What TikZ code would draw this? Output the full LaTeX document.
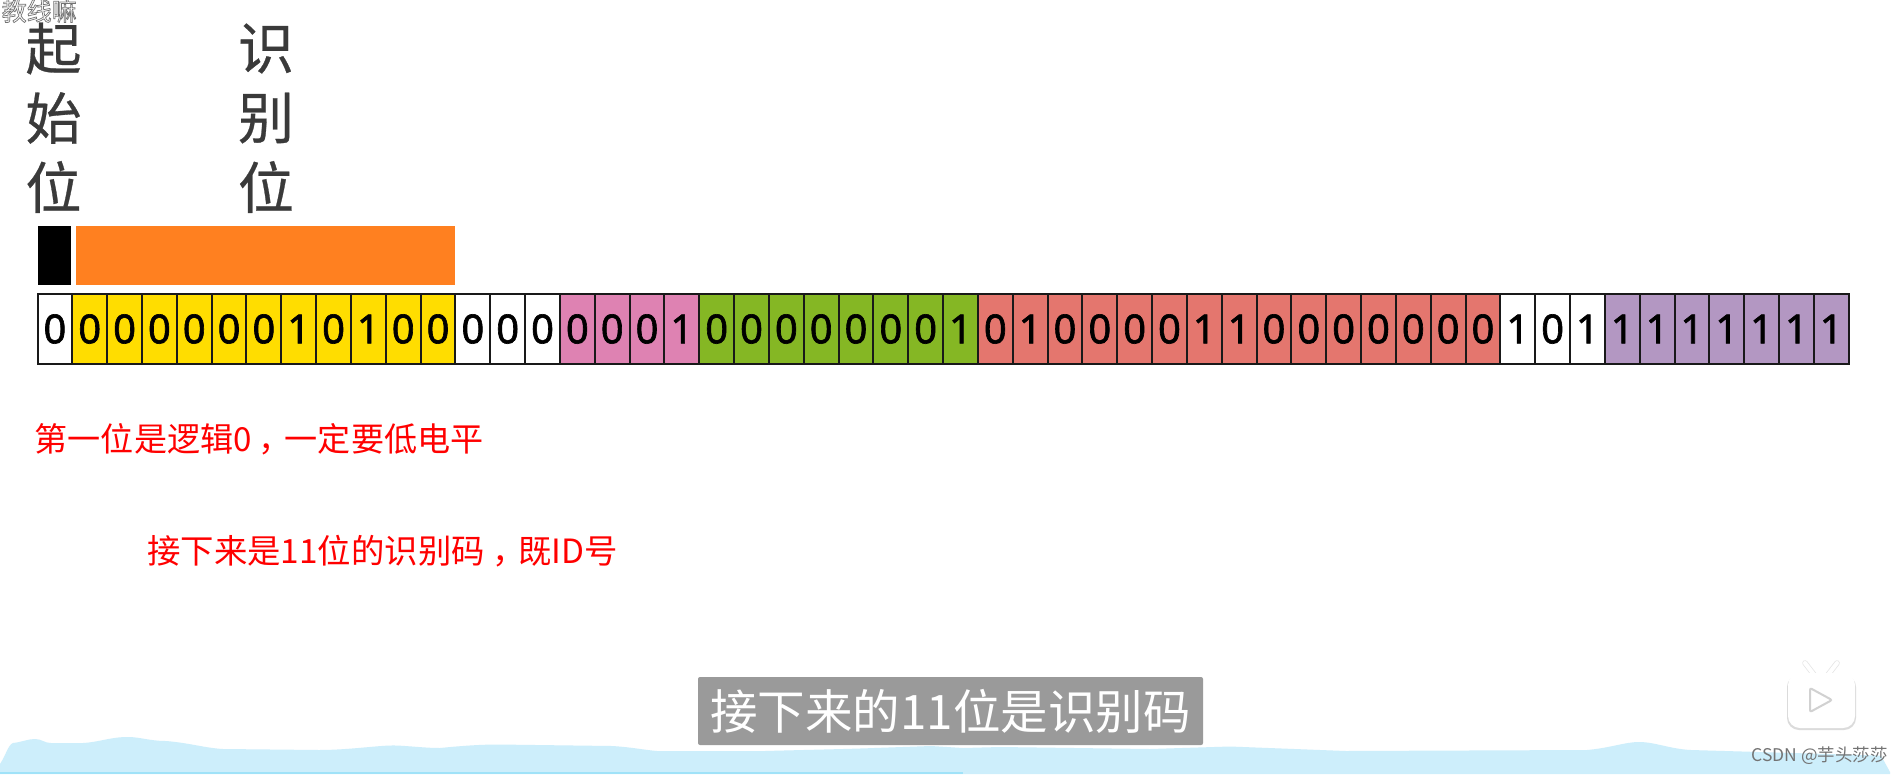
\documentclass[tikz,border=0pt]{standalone}
\usepackage{fontspec}
\setmainfont{Noto Sans CJK SC}
\newfontfamily\numfont[FakeBold=1.6]{Noto Sans}
\newfontfamily\bigfont[FakeBold=0.5]{Noto Sans CJK SC}
\newcommand{\midcomma}{\hspace{0.22em}，\hspace{-0.22em}}
\definecolor{cyel}{HTML}{FFDD00}
\definecolor{cpink}{HTML}{DE82B2}
\definecolor{cgrn}{HTML}{85B724}
\definecolor{cred}{HTML}{E4766E}
\definecolor{cpur}{HTML}{B397C2}
\definecolor{corg}{HTML}{FF8020}
\definecolor{cwave}{HTML}{CDEEFB}
\definecolor{cwaveb}{HTML}{A0E2F8}
\definecolor{cdark}{HTML}{3A3A3A}
\definecolor{csub}{HTML}{9A9A9A}
\tikzset{
 bitcell/.style={draw=black!90,line width=2pt,minimum width=34.83pt,minimum height=70pt,inner sep=0pt,outer sep=0pt,font=\fontsize{40}{40}\selectfont\numfont,text=black},
 bigchar/.style={font=\fontsize{56}{56}\selectfont\bigfont,text=cdark,inner sep=0pt},
 note/.style={font=\fontsize{33.1}{33.1}\selectfont,text=red,inner sep=0pt,anchor=west},
 wmark/.style={font=\fontsize{25}{25}\selectfont,inner sep=0pt,anchor=west},
}
\begin{document}
\begin{tikzpicture}[x=1pt,y=-1pt]
\useasboundingbox (0,0) rectangle (1903,774);
\fill[white] (0,0) rectangle (1903,774);
% waves
\fill[cwave] (0,774) -- (0,764) .. controls (6,755) and (8,745) .. (13,743) .. controls (22,742) and (28,739) .. (35,739) .. controls (42,739) and (44,743) .. (51,743) -- (83,743) .. controls (100,742) and (110,737) .. (128,737) .. controls (140,737) and (150,741) .. (166,741) .. controls (190,743) and (205,748) .. (223,749) -- (319,750) .. controls (350,750) and (380,745) .. (396,745.5) .. controls (410,746) and (425,748) .. (440,748) .. controls (460,746) and (480,744.5) .. (498,744.5) -- (612,746) .. controls (630,747) and (645,750) .. (657,751) -- (765,751) .. controls (800,750) and (850,749) .. (874,748) -- (931,746) -- (963,748) -- (1000,747) -- (1150,749) -- (1230,746.5) -- (1346,751) -- (1587,750) .. controls (1610,748) and (1625,742) .. (1639,742) .. controls (1655,742) and (1670,749) .. (1691,750) -- (1881,755.6) -- (1890,772) -- (1890,774) -- cycle;
\fill[cwaveb] (0,772) rectangle (963,774);
% labels
\node[bigchar] (q1) at (53.5,48.5) {起};
\node[bigchar] (q2) at (53.5,118) {始};
\node[bigchar] (q3) at (53.5,187) {位};
\node[bigchar] (s1) at (266,48.5) {识};
\node[bigchar] (s2) at (266,118) {别};
\node[bigchar] (s3) at (266,187) {位};
% bars
\fill[black] (37.5,226) rectangle (70.5,285);
\fill[corg] (76,226) rectangle (455,285);
% bits
\foreach \b/\c [count=\i from 0] in {0/white,
 0/cyel,0/cyel,0/cyel,0/cyel,0/cyel,0/cyel,1/cyel,0/cyel,1/cyel,0/cyel,0/cyel,
 0/white,0/white,0/white,
 0/cpink,0/cpink,0/cpink,1/cpink,
 0/cgrn,0/cgrn,0/cgrn,0/cgrn,0/cgrn,0/cgrn,0/cgrn,1/cgrn,
 0/cred,1/cred,0/cred,0/cred,0/cred,0/cred,1/cred,1/cred,0/cred,0/cred,0/cred,0/cred,0/cred,0/cred,0/cred,
 1/white,0/white,1/white,
 1/cpur,1/cpur,1/cpur,1/cpur,1/cpur,1/cpur,1/cpur}
 \node[bitcell,fill=\c] (bit\i) at ({37.5+34.83*(\i+0.5)},329) {\b};
% notes
\node[note] (n1) at (34.5,439) {第一位是逻辑0\midcomma 一定要低电平};
\node[note,font=\fontsize{33.4}{33.4}\selectfont] (n2) at (147,551) {接下来是11位的识别码\midcomma 既ID号};
% subtitle
\node[fill=csub,rounded corners=2pt,text=white,font=\fontsize{47.5}{47.5}\selectfont,minimum width=505pt,minimum height=68pt,inner sep=0pt] (sub) at (950.5,711) {接下来的11位是识别码};
% watermark: white text with a grey outline
\node[wmark,text=white] (wm) at (1.5,11) {\special{pdf:code q 0.45 G 0.7 w 2 Tr}教线嘛\special{pdf:code Q}};
\node[font=\fontsize{17.5}{17.5}\selectfont,text=black!55,inner sep=0pt,anchor=east] (csdn) at (1888,756) {CSDN @芋头莎莎};
% logo
\draw[black!10,line width=5.5pt,line cap=round] (1805,663) -- (1815,676) (1837,663) -- (1827,676);
\draw[white,line width=4pt,line cap=round] (1805,663) -- (1815,676) (1837,663) -- (1827,676);
\fill[black!14,rounded corners=12pt] (1787,675) rectangle (1856,730);
\fill[white,rounded corners=12pt] (1788,673) rectangle (1855,728);
\draw[black!18,line width=2pt,rounded corners=2pt] (1810,688) -- (1810,712) -- (1832,700) -- cycle;
\end{tikzpicture}
\end{document}
